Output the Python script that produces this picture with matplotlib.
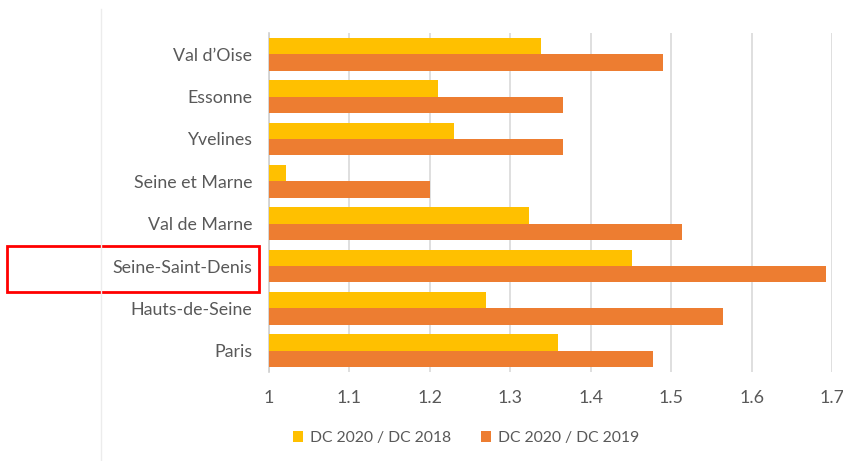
import matplotlib.pyplot as plt
import numpy as np
from matplotlib.patches import Rectangle
from matplotlib.lines import Line2D

# departments, top to bottom
departments = ["Val d\u2019Oise", "Essonne", "Yvelines", "Seine et Marne",
               "Val de Marne", "Seine-Saint-Denis", "Hauts-de-Seine", "Paris"]
ratio_2018 = [1.339, 1.21, 1.23, 1.022, 1.324, 1.452, 1.27, 1.36]
ratio_2019 = [1.49, 1.366, 1.366, 1.20, 1.514, 1.693, 1.564, 1.478]
xticks = [1, 1.1, 1.2, 1.3, 1.4, 1.5, 1.6, 1.7]
xtick_labels = ["1", "1.1", "1.2", "1.3", "1.4", "1.5", "1.6", "1.7"]
series_names = ["DC 2020 / DC 2018", "DC 2020 / DC 2019"]

plt.rcParams["font.family"] = ["Lato", "DejaVu Sans"]
grey = "#595959"

fig = plt.figure(figsize=(8.43, 4.61), dpi=100)
W, H = 843, 461
ax = fig.add_axes([268.7 / W, 1 - 372 / H, (832 - 268.7) / W, (372 - 33) / H])

y = np.arange(len(departments))
h = 0.385
ax.barh(y - h / 2, np.array(ratio_2018) - 1, left=1, height=h, color="#FFC000",
        label=series_names[0], zorder=3)
ax.barh(y + h / 2, np.array(ratio_2019) - 1, left=1, height=h, color="#ED7D31",
        label=series_names[1], zorder=3)

ax.set_xlim(1, 1.7)
ax.set_ylim(len(departments) - 0.5, -0.5)
ax.set_xticks(xticks)
ax.set_xticklabels(xtick_labels)
ax.set_yticks(y)
ax.set_yticklabels(departments)
ax.tick_params(axis="both", length=0, colors=grey, labelsize=12.8)
ax.tick_params(axis="x", pad=13)
ax.tick_params(axis="y", pad=12)
ax.grid(axis="x", color="#d9d9d9", linewidth=1.2, zorder=0)
for s in ["top", "right", "bottom"]:
    ax.spines[s].set_visible(False)
ax.spines["left"].set_color("#d0d0d0")
ax.spines["left"].set_linewidth(1.2)

fig.legend(loc="center", bbox_to_anchor=(466 / W, 1 - 438 / H), ncol=2,
           frameon=False, fontsize=11.3, labelcolor=grey, handlelength=0.65,
           handleheight=0.65, handletextpad=0.45, columnspacing=1.9)

# faint border line at left of the chart area
fig.add_artist(Line2D([101 / W, 101 / W], [0, 1 - 9 / H], color="#ececec",
                      linewidth=1, transform=fig.transFigure))
# red highlight box around Seine-Saint-Denis
fig.add_artist(Rectangle((7 / W, 1 - 292 / H), 252 / W, 46 / H, fill=False,
                         edgecolor="#ff0000", linewidth=2,
                         transform=fig.transFigure))

fig.savefig("out.png", dpi=100)
